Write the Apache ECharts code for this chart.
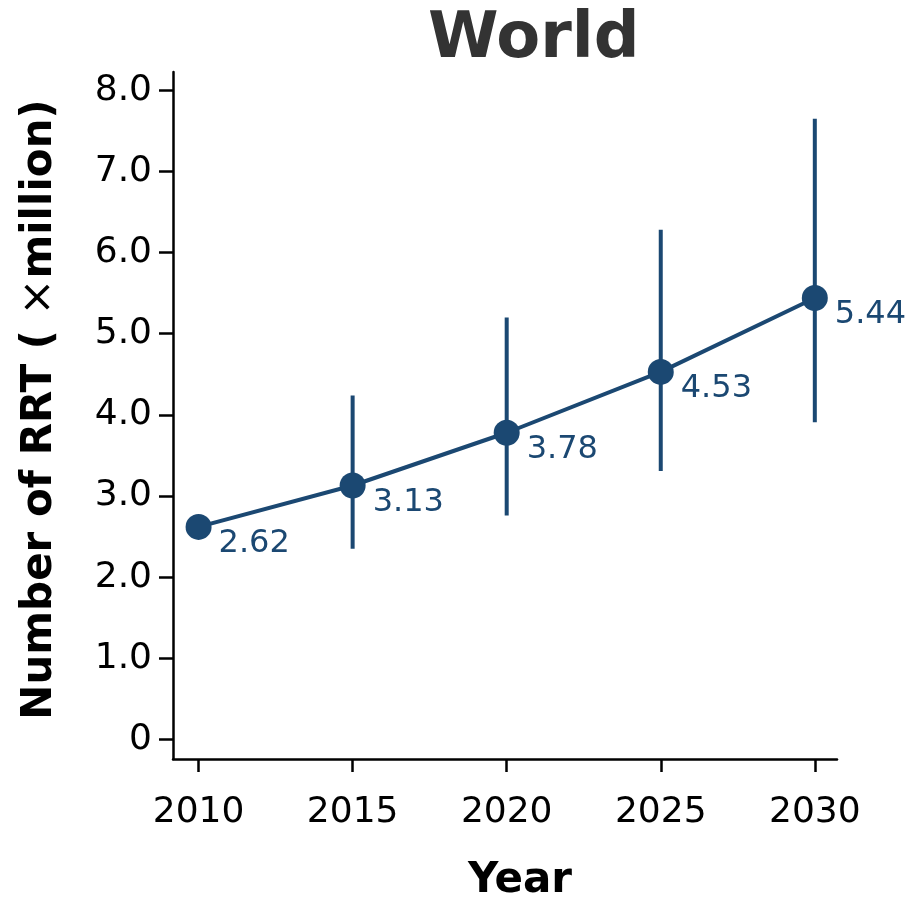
<!DOCTYPE html>
<html>
<head>
<meta charset="utf-8">
<script src="https://cdn.jsdelivr.net/npm/echarts@6/dist/echarts.min.js"></script>
<style>
html,body{margin:0;padding:0;background:#fff;}
#chart{width:906px;height:900px;}
</style>
</head>
<body>
<div id="chart"></div>
<script>
const years = [2010, 2015, 2020, 2025, 2030];
const values = [2.62, 3.13, 3.78, 4.53, 5.44];
const lower = [null, 2.35, 2.76, 3.31, 3.91];
const upper = [null, 4.24, 5.20, 6.28, 7.65];
const yTicks = [0, 1, 2, 3, 4, 5, 6, 7, 8];

const COLOR = '#1b4872';
const FONT = 'DejaVu Sans';

const chart = echarts.init(document.getElementById('chart'), null, {renderer: 'canvas'});

const lineData = years.map((y, i) => [y, values[i]]);
const errData = [];
years.forEach((y, i) => {
  if (lower[i] != null && upper[i] != null) errData.push([y, lower[i], upper[i]]);
});

chart.setOption({
  animation: false,
  backgroundColor: '#fff',
  title: {
    text: 'World',
    left: 428,
    top: 8,
    padding: 0,
    textStyle: {fontFamily: FONT, fontSize: 64, fontWeight: 'bold', color: '#333'}
  },
  grid: {left: 173, right: 69, top: 72, bottom: 141, containLabel: false, outerBoundsMode: 'none'},
  xAxis: {
    type: 'value',
    min: 2009.17,
    max: 2030.72,
    name: 'Year',
    nameLocation: 'middle',
    nameGap: 101,
    nameTextStyle: {fontFamily: FONT, fontSize: 42, fontWeight: 'bold', color: '#000', padding: [0, 0, 0, 30]},
    splitLine: {show: false},
    axisLine: {show: true, onZero: false, lineStyle: {color: '#000', width: 2.5}},
    axisTick: {show: true, length: 13, lineStyle: {color: '#000', width: 2.5}, customValues: years},
    axisLabel: {customValues: years, margin: 36, fontFamily: FONT, fontSize: 36, color: '#000', formatter: v => String(v)}
  },
  yAxis: {
    type: 'value',
    min: -0.24,
    max: 8.225,
    name: '{b|Number of RRT ( }{n|×}{b|million)}',
    nameLocation: 'middle',
    nameGap: 111,
    nameTextStyle: {
      padding: [0, 0, 0, 12],
      rich: {
        b: {fontFamily: FONT, fontSize: 42, fontWeight: 'bold', color: '#000'},
        n: {fontFamily: FONT, fontSize: 44, fontWeight: 'normal', color: '#000'}
      }
    },
    splitLine: {show: false},
    axisLine: {show: true, onZero: false, lineStyle: {color: '#000', width: 2.5}},
    axisTick: {show: true, length: 14, lineStyle: {color: '#000', width: 2.5}, customValues: yTicks},
    axisLabel: {customValues: yTicks, margin: 21, fontFamily: FONT, fontSize: 36, color: '#000',
      formatter: v => (v === 0 ? '0' : v.toFixed(1))}
  },
  series: [
    {
      type: 'custom',
      data: errData,
      encode: {x: 0, y: [1, 2]},
      z: 2,
      renderItem: function (params, api) {
        const x = api.value(0);
        const p1 = api.coord([x, api.value(1)]);
        const p2 = api.coord([x, api.value(2)]);
        return {
          type: 'line',
          shape: {x1: p1[0], y1: p1[1], x2: p2[0], y2: p2[1]},
          style: {stroke: COLOR, lineWidth: 4}
        };
      }
    },
    {
      type: 'line',
      data: lineData,
      z: 3,
      symbol: 'circle',
      symbolSize: 26,
      lineStyle: {color: COLOR, width: 4},
      itemStyle: {color: COLOR},
      label: {
        show: true,
        position: [33, 30],
        align: 'left',
        verticalAlign: 'middle',
        fontFamily: FONT,
        fontSize: 32,
        color: COLOR,
        formatter: p => p.value[1].toFixed(2)
      }
    }
  ]
});
</script>
</body>
</html>
